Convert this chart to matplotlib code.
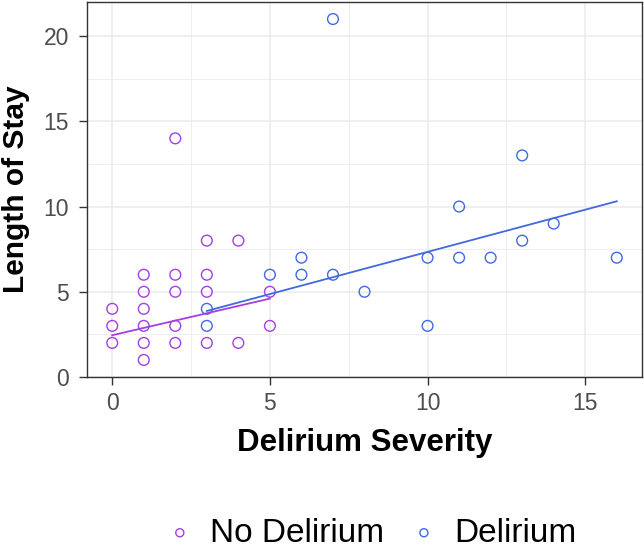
import matplotlib
matplotlib.use("Agg")
import matplotlib.pyplot as plt
import matplotlib.ticker as mticker
import numpy as np

plt.rcParams['font.family'] = ['Liberation Sans', 'DejaVu Sans']

# ------------------- data -------------------
no_del_x = [0, 0, 0, 1, 1, 1, 1, 1, 1, 2, 2, 2, 2, 2, 3, 3, 3, 3, 4, 4, 5, 5]
no_del_y = [2, 3, 4, 1, 2, 3, 4, 5, 6, 2, 3, 5, 6, 14, 2, 5, 6, 8, 2, 8, 5, 3]

del_x = [3, 3, 5, 6, 6, 7, 7, 8, 10, 10, 11, 11, 12, 13, 13, 14, 16]
del_y = [4, 3, 6, 7, 6, 6, 21, 5, 7, 3, 10, 7, 7, 13, 8, 9, 7]

# linear fits (intercept, slope)
fit_no_del = (2.45, 0.43)
fit_del = (2.39, 0.495)

labels = ["No Delirium", "Delirium"]
col_no = "#A43FE0"
col_del = "#4169E1"

# ------------------- plot -------------------
fig = plt.figure(figsize=(6.44, 5.47), dpi=100)
ax = fig.add_axes([87 / 644, 170 / 547, 555 / 644, 375 / 547])

ax.set_xlim(-0.8, 16.8)
ax.set_ylim(0, 22)

# grid like theme_bw
ax.xaxis.set_major_locator(mticker.FixedLocator([0, 5, 10, 15]))
ax.yaxis.set_major_locator(mticker.FixedLocator([0, 5, 10, 15, 20]))
ax.xaxis.set_minor_locator(mticker.FixedLocator([2.5, 7.5, 12.5]))
ax.yaxis.set_minor_locator(mticker.FixedLocator([2.5, 7.5, 12.5, 17.5]))
ax.grid(which="major", color="#EBEBEB", lw=1.1, zorder=0)
ax.grid(which="minor", color="#EBEBEB", lw=0.6, zorder=0)
ax.set_axisbelow(True)
ax.tick_params(which="minor", length=0)
ax.tick_params(which="major", length=6, width=1.0, color="#333333",
               labelsize=16.5, labelcolor="#4D4D4D")
ax.tick_params(axis="x", pad=5)
ax.tick_params(axis="y", pad=7)
for s in ax.spines.values():
    s.set_color("#333333")
    s.set_linewidth(1.0)

ax.scatter(no_del_x, no_del_y, s=60, facecolors="none", edgecolors=col_no,
           linewidths=1.0, label=labels[0], zorder=3)
ax.scatter(del_x, del_y, s=60, facecolors="none", edgecolors=col_del,
           linewidths=1.0, label=labels[1], zorder=3)

for xs, fit, c in [(no_del_x, fit_no_del, col_no), (del_x, fit_del, col_del)]:
    xx = np.array([min(xs), max(xs)])
    ax.plot(xx, fit[0] + fit[1] * xx, color=c, lw=1.3, zorder=4)

ax.set_xlabel("Delirium Severity", fontsize=22.5, fontweight="bold", labelpad=9)
ax.set_ylabel("Length of Stay", fontsize=21.5, fontweight="bold", labelpad=10)

leg = ax.legend(loc="center", bbox_to_anchor=(368 / 644, 1 - 533 / 547),
                bbox_transform=fig.transFigure, ncol=2, frameon=False,
                fontsize=24, markerscale=0.75, handletextpad=0.3,
                columnspacing=0.6, handlelength=1.2)

fig.savefig("out.png", dpi=100)
